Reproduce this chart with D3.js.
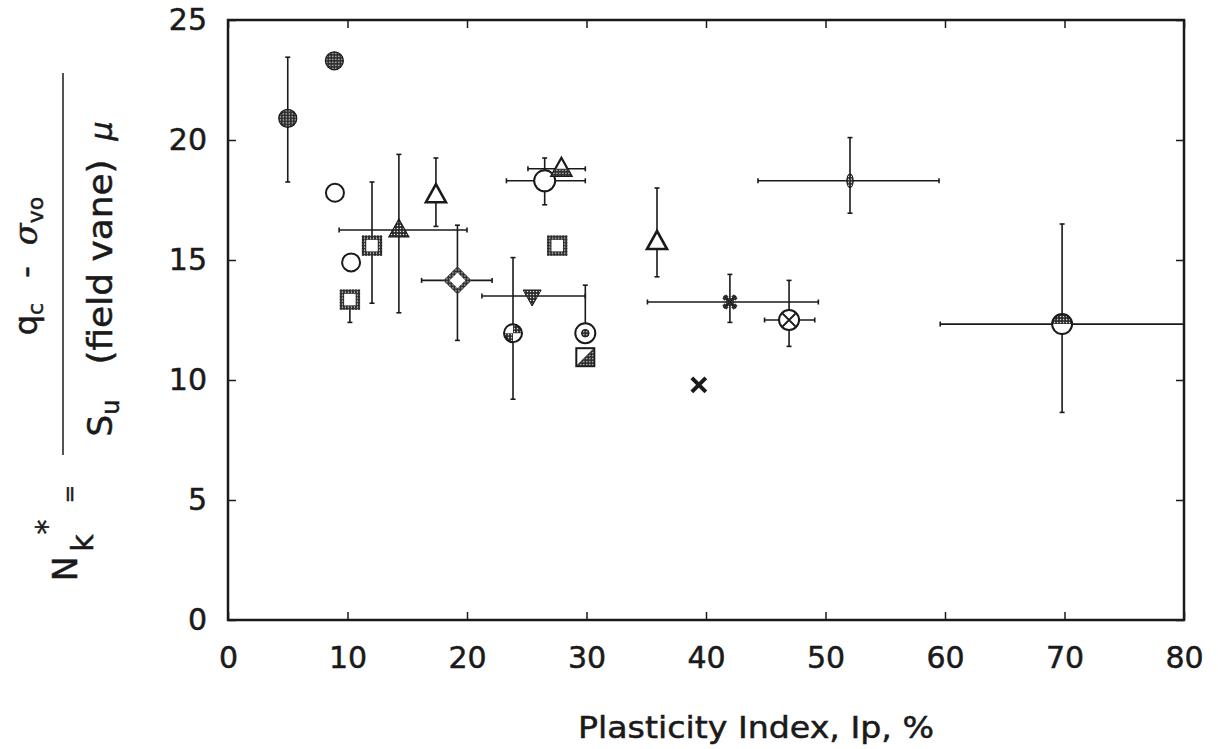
<!DOCTYPE html>
<html>
<head>
<meta charset="utf-8">
<script src="https://cdn.jsdelivr.net/npm/d3@7"></script>
<style>
  body { margin: 0; background: #fff; }
  svg text { font-family: "DejaVu Sans", sans-serif; fill: #1a1a1a; stroke: #1a1a1a; stroke-width: 0.5px; }
</style>
</head>
<body>
<svg id="chart" width="1218" height="749"></svg>
<script>
// plasticity index (x) and cone factor N*k (y) for each soil
const ip = [5.0, 8.9, 8.95, 10.3, 10.2, 12.05, 14.3, 17.4, 19.2, 26.5, 27.9, 27.55, 25.45, 23.85, 29.9, 29.9, 35.9, 42.0, 39.4, 46.95, 52.05, 69.8];
const nk = [20.9, 23.3, 17.8, 14.9, 13.35, 15.6, 16.25, 17.7, 14.15, 18.3, 18.8, 15.6, 13.5, 11.95, 11.95, 10.95, 15.75, 13.25, 9.8, 12.5, 18.3, 12.33];
// ranges (null = no bar on that side)
const nkLow  = [18.25, null, null, null, 12.4, 13.2, 12.8, 16.4, 11.65, 17.3, null, null, null, 9.2, null, null, 14.3, 12.4, null, 11.4, 16.95, 8.65];
const nkHigh = [23.45, null, null, null, null, 18.25, 19.4, 19.25, 16.45, 19.25, null, null, null, 15.1, 13.95, null, 18.0, 14.4, null, 14.15, 20.1, 16.5];
const ipLow  = [null, null, null, null, null, null, 9.3, null, 16.2, 23.3, 25.1, null, 21.25, null, null, null, null, 35.1, null, 44.9, 44.35, 59.6];
const ipHigh = [null, null, null, null, null, null, 20.0, null, 22.1, 29.9, 29.9, null, 29.9, null, null, null, null, 49.4, null, 49.1, 59.5, 80];
const symbols = ["filledCircle", "filledCircle", "openCircle", "openCircle", "stipSquare", "stipSquare",
  "filledTriangle", "openTriangle", "stipDiamond", "bigCircle", "partTriangle", "stipSquare",
  "filledInvTriangle", "quarterCircle", "dotCircle", "halfSquare", "openTriangle", "asterisk",
  "xMark", "crossCircle", "smallPlus", "halfCircle"];

const xTicks = [0, 10, 20, 30, 40, 50, 60, 70, 80];
const yTicks = [0, 5, 10, 15, 20, 25];

const width = 1218, height = 749;
const margin = { left: 228, top: 20, right: 34, bottom: 129 };
const ink = "#1a1a1a";

const svg = d3.select("#chart");

// stipple texture like the scanned dot fill
const defs = svg.append("defs");
const pat = defs.append("pattern").attr("id", "stip")
  .attr("width", 3).attr("height", 3).attr("patternUnits", "userSpaceOnUse");
pat.append("rect").attr("width", 3).attr("height", 3).attr("fill", "#2a2a2a");
pat.append("circle").attr("cx", 1.5).attr("cy", 1.5).attr("r", 0.7).attr("fill", "#fff");

const x = d3.scaleLinear().domain([0, 80]).range([margin.left, width - margin.right]);
const y = d3.scaleLinear().domain([0, 25]).range([height - margin.bottom, margin.top]);

// axes, ticks pointing inward
svg.append("g")
  .attr("transform", `translate(0,${y(0)})`)
  .call(d3.axisBottom(x).tickValues(xTicks).tickSize(-8).tickSizeOuter(0).tickPadding(27))
  .call(g => g.select(".domain").remove());
svg.append("g")
  .attr("transform", `translate(0,${y(25)})`)
  .call(d3.axisTop(x).tickValues(xTicks).tickSize(-8).tickSizeOuter(0).tickFormat(""))
  .call(g => g.select(".domain").remove());
svg.append("g")
  .attr("transform", `translate(${x(0)},0)`)
  .call(d3.axisLeft(y).tickValues(yTicks).tickSize(-8).tickSizeOuter(0).tickPadding(21))
  .call(g => g.select(".domain").remove());
svg.append("g")
  .attr("transform", `translate(${x(80)},0)`)
  .call(d3.axisRight(y).tickValues(yTicks).tickSize(-8).tickSizeOuter(0).tickFormat(""))
  .call(g => g.select(".domain").remove());

svg.selectAll(".tick line").attr("stroke", ink).attr("stroke-width", 1.5);
svg.selectAll(".tick text").attr("font-size", 30).attr("font-family", "DejaVu Sans").attr("fill", ink);

// frame
svg.append("rect")
  .attr("x", x(0)).attr("y", y(25))
  .attr("width", x(80) - x(0)).attr("height", y(0) - y(25))
  .attr("fill", "none").attr("stroke", ink).attr("stroke-width", 2.5);

// error bars
const pts = ip.map((v, i) => ({ i, ip: v, nk: nk[i], sym: symbols[i] }));
const bars = svg.append("g").attr("stroke", ink).attr("stroke-width", 1.6);
pts.forEach(d => {
  const i = d.i;
  if (nkLow[i] != null || nkHigh[i] != null) {
    const a = nkLow[i] ?? d.nk, b = nkHigh[i] ?? d.nk;
    bars.append("line").attr("x1", x(d.ip)).attr("x2", x(d.ip)).attr("y1", y(a)).attr("y2", y(b));
    [nkLow[i], nkHigh[i]].filter(v => v != null).forEach(v =>
      bars.append("line").attr("x1", x(d.ip) - 2.5).attr("x2", x(d.ip) + 2.5).attr("y1", y(v)).attr("y2", y(v)));
  }
  if (ipLow[i] != null || ipHigh[i] != null) {
    const a = ipLow[i] ?? d.ip, b = ipHigh[i] ?? d.ip;
    bars.append("line").attr("x1", x(a)).attr("x2", x(b)).attr("y1", y(d.nk)).attr("y2", y(d.nk));
    [ipLow[i], ipHigh[i]].filter(v => v != null && v < 80).forEach(v =>
      bars.append("line").attr("x1", x(v)).attr("x2", x(v)).attr("y1", y(d.nk) - 2.5).attr("y2", y(d.nk) + 2.5));
  }
});

// marker shapes
const tri = "M0,-11L10,7L-10,7Z";
const invTri = "M0,10L9,-6L-9,-6Z";

function drawMarker(g, type) {
  switch (type) {
    case "filledCircle":
      g.append("circle").attr("r", 9).attr("fill", "url(#stip)").attr("stroke", ink).attr("stroke-width", 1.2);
      break;
    case "openCircle":
      g.append("circle").attr("r", 9).attr("fill", "#fff").attr("stroke", ink).attr("stroke-width", 2);
      break;
    case "bigCircle":
      g.append("circle").attr("r", 10.5).attr("fill", "#fff").attr("stroke", ink).attr("stroke-width", 2);
      break;
    case "stipSquare":
      g.append("rect").attr("x", -8).attr("y", -8).attr("width", 16).attr("height", 16)
        .attr("fill", "#fff").attr("stroke", "url(#stip)").attr("stroke-width", 4.5);
      break;
    case "filledTriangle":
      g.append("path").attr("d", tri).attr("fill", "url(#stip)").attr("stroke", ink).attr("stroke-width", 1.2);
      break;
    case "openTriangle":
      g.append("path").attr("d", tri).attr("fill", "#fff").attr("stroke", ink).attr("stroke-width", 2.6);
      break;
    case "partTriangle":
      g.append("path").attr("d", tri).attr("fill", "#fff").attr("stroke", ink).attr("stroke-width", 2.2);
      g.append("path").attr("d", "M-6,0L6,0L10,7L-10,7Z").attr("fill", "url(#stip)");
      break;
    case "stipDiamond":
      g.append("path").attr("d", "M0,-11L11,0L0,11L-11,0Z")
        .attr("fill", "#fff").attr("stroke", "url(#stip)").attr("stroke-width", 4.5);
      break;
    case "filledInvTriangle":
      g.append("path").attr("d", invTri).attr("fill", "url(#stip)").attr("stroke", ink).attr("stroke-width", 1);
      break;
    case "quarterCircle": {
      const arc = d3.arc().innerRadius(0).outerRadius(9);
      g.append("circle").attr("r", 9).attr("fill", "#fff");
      g.append("path").attr("d", arc({ startAngle: 0, endAngle: Math.PI / 2 })).attr("fill", "url(#stip)");
      g.append("path").attr("d", arc({ startAngle: Math.PI, endAngle: 1.5 * Math.PI })).attr("fill", "url(#stip)");
      g.append("circle").attr("r", 9).attr("fill", "none").attr("stroke", ink).attr("stroke-width", 2);
      break;
    }
    case "dotCircle":
      g.append("circle").attr("r", 10).attr("fill", "#fff").attr("stroke", ink).attr("stroke-width", 2);
      g.append("circle").attr("r", 3.8).attr("fill", "url(#stip)").attr("stroke", ink).attr("stroke-width", 1);
      break;
    case "halfSquare":
      g.append("rect").attr("x", -9).attr("y", -9).attr("width", 18).attr("height", 18)
        .attr("fill", "#fff").attr("stroke", ink).attr("stroke-width", 2);
      g.append("path").attr("d", "M9,-9L9,9L-9,9Z").attr("fill", "url(#stip)").attr("stroke", ink).attr("stroke-width", 1);
      break;
    case "asterisk":
      g.append("path").attr("d", "M-6,-6L6,6M6,-6L-6,6").attr("stroke", "url(#stip)").attr("stroke-width", 5.5);
      g.append("path").attr("d", "M-6,-6L6,6M6,-6L-6,6").attr("stroke", ink).attr("stroke-width", 1.2);
      break;
    case "xMark":
      g.append("path").attr("d", "M-7,-7L7,7M7,-7L-7,7").attr("stroke", ink).attr("stroke-width", 4);
      break;
    case "crossCircle":
      g.append("circle").attr("r", 10).attr("fill", "#fff").attr("stroke", ink).attr("stroke-width", 2);
      g.append("path").attr("d", "M-6.5,-6.5L6.5,6.5M6.5,-6.5L-6.5,6.5").attr("stroke", ink).attr("stroke-width", 1.8);
      break;
    case "smallPlus":
      g.append("ellipse").attr("rx", 3.2).attr("ry", 7).attr("fill", "url(#stip)").attr("stroke", ink).attr("stroke-width", 1);
      break;
    case "halfCircle":
      g.append("circle").attr("r", 10).attr("fill", "#fff");
      g.append("path").attr("d", "M-10,0A10,10 0 0 1 10,0Z").attr("fill", "url(#stip)");
      g.append("circle").attr("r", 10).attr("fill", "none").attr("stroke", ink).attr("stroke-width", 2);
      break;
  }
}

svg.append("g").selectAll("g")
  .data(pts)
  .join("g")
    .attr("transform", d => `translate(${x(d.ip)},${y(d.nk)})`)
    .each(function(d) { drawMarker(d3.select(this), d.sym); });

// x axis title
svg.append("text")
  .attr("x", 756).attr("y", 738)
  .attr("text-anchor", "middle")
  .attr("font-size", 30)
  .attr("textLength", 356).attr("lengthAdjust", "spacingAndGlyphs")
  .text("Plasticity Index, Ip, %");

// y axis title: N*k = (qc - σvo) / (Su (field vane) μ)
function rotText(px, py, size) {
  return svg.append("text")
    .attr("transform", `translate(${px},${py}) rotate(-90)`)
    .attr("text-anchor", "middle")
    .attr("font-size", size);
}
let t = rotText(37, 319, 32);
t.append("tspan").text("q");
t.append("tspan").attr("font-size", 22).attr("dy", 6).text("c");
rotText(37, 272, 32).text("-");
t = rotText(37, 221, 32);
t.append("tspan").attr("font-style", "italic").attr("font-family", "DejaVu Serif").text("σ");
t.append("tspan").attr("font-size", 22).attr("dy", 6).text("vo");

svg.append("line")
  .attr("x1", 63).attr("x2", 63).attr("y1", 73).attr("y2", 455)
  .attr("stroke", ink).attr("stroke-width", 1.5);

t = rotText(112, 418, 34);
t.append("tspan").text("S");
t.append("tspan").attr("font-size", 24).attr("dy", 7).text("u");
rotText(112, 262, 34).attr("textLength", 205).attr("lengthAdjust", "spacingAndGlyphs").text("(field vane)");
rotText(112, 131, 30).attr("font-style", "italic").attr("font-family", "DejaVu Serif").text("μ");

rotText(77, 569, 33).text("N");
rotText(93, 543, 30).text("k");
rotText(57, 527, 30).text("*");
rotText(77, 494, 22).text("=");
</script>
</body>
</html>
